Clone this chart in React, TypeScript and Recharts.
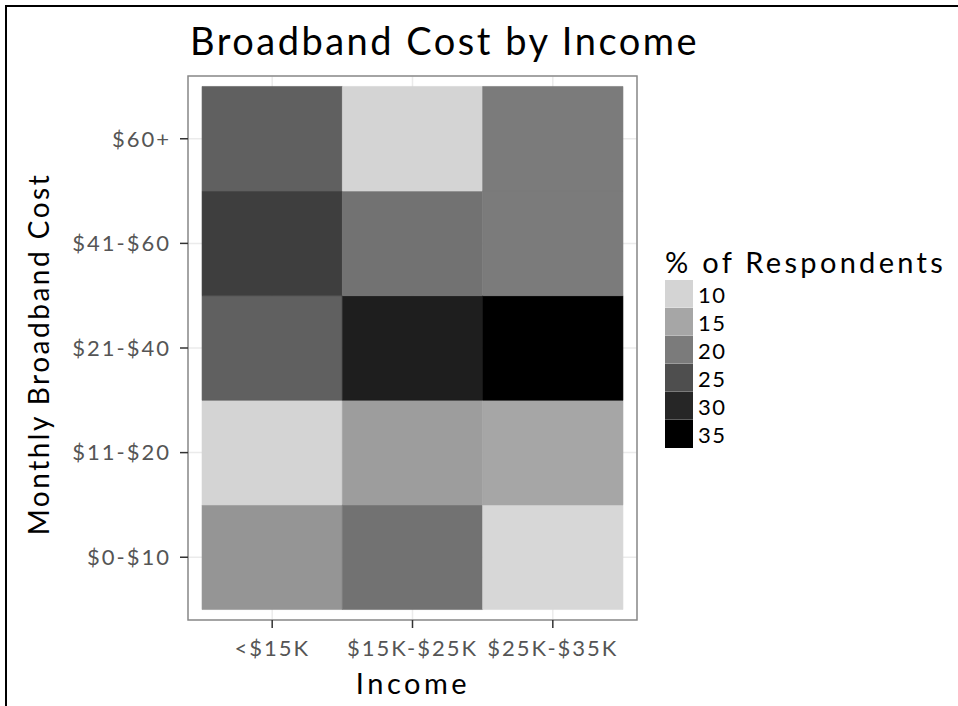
import { ScatterChart, Scatter, XAxis, YAxis, CartesianGrid, ReferenceArea } from "recharts";

const incomes = ["<$15K", "$15K-$25K", "$25K-$35K"];
const costs = ["$0-$10", "$11-$20", "$21-$40", "$41-$60", "$60+"];

// % of respondents per cost bracket (bottom to top), one list per income group
const under15K = [17, 10, 23, 27, 23];
const from15To25K = [21, 16, 31, 21, 10];
const from25To35K = [9.5, 15, 35, 20, 20];

const legendBreaks = [10, 15, 20, 25, 30, 35];
const legendGrays = [212, 166, 123, 78, 38, 0];

const byIncome = [under15K, from15To25K, from25To35K];
const cells = byIncome.flatMap((col, i) =>
  col.map((value, j) => ({ x: i + 1, y: j + 1, value }))
);

function grayFor(v: number) {
  let g: number;
  if (v <= legendBreaks[0]) {
    g = Math.min(255, legendGrays[0] + (legendBreaks[0] - v) * 6);
  } else if (v >= legendBreaks[legendBreaks.length - 1]) {
    g = 0;
  } else {
    const k = legendBreaks.findIndex((b) => b > v) - 1;
    const t = (v - legendBreaks[k]) / (legendBreaks[k + 1] - legendBreaks[k]);
    g = legendGrays[k] + (legendGrays[k + 1] - legendGrays[k]) * t;
  }
  const h = Math.round(g).toString(16).padStart(2, "0");
  return `#${h}${h}${h}`;
}

const FONT = "Lato, 'Open Sans', sans-serif";
const tickStyle = { fill: "#555", fontSize: 22, fontFamily: FONT, letterSpacing: 2 };

export default function App() {
  return (
    <div
      style={{
        position: "absolute",
        left: 0,
        top: 0,
        width: 958,
        height: 706,
        background: "#fff",
        fontFamily: FONT,
        overflow: "hidden",
      }}
    >
      {/* frame lines */}
      <div
        style={{
          position: "absolute",
          left: 5,
          top: 5,
          width: 960,
          height: 710,
          borderTop: "2px solid #000",
          borderLeft: "2px solid #000",
        }}
      />

      <ScatterChart
        width={958}
        height={706}
        margin={{ top: 76, right: 321, bottom: 0, left: 0 }}
        style={{ position: "absolute", left: 0, top: 0 }}
      >
        <CartesianGrid stroke="#ebebeb" strokeWidth={1.5} />
        <XAxis
          type="number"
          dataKey="x"
          domain={[0.4, 3.6]}
          ticks={[1, 2, 3]}
          interval={0}
          allowDataOverflow
          tickFormatter={(v) => incomes[v - 1]}
          axisLine={false}
          tickSize={8}
          tickMargin={12}
          tickLine={{ stroke: "#333", strokeWidth: 1.5 }}
          tick={tickStyle}
          height={86}
        />
        <YAxis
          type="number"
          dataKey="y"
          domain={[0.4, 5.6]}
          ticks={[1, 2, 3, 4, 5]}
          interval={0}
          allowDataOverflow
          tickFormatter={(v) => costs[v - 1]}
          axisLine={false}
          tickSize={8}
          tickMargin={9}
          tickLine={{ stroke: "#333", strokeWidth: 1.5 }}
          tick={tickStyle}
          width={188}
        />
        {cells.map((c) => (
          <ReferenceArea
            key={`${c.x}-${c.y}`}
            x1={c.x - 0.5}
            x2={c.x + 0.5}
            y1={c.y - 0.5}
            y2={c.y + 0.5}
            fill={grayFor(c.value)}
            fillOpacity={1}
            stroke={grayFor(c.value)}
            strokeWidth={0.6}
          />
        ))}
        <ReferenceArea
          x1={0.4}
          x2={3.6}
          y1={0.4}
          y2={5.6}
          fill="none"
          stroke="#8a8a8a"
          strokeWidth={1.5}
          ifOverflow="visible"
        />
        <Scatter data={cells} isAnimationActive={false} shape={() => <g />} />
      </ScatterChart>

      {/* title */}
      <div
        style={{
          position: "absolute",
          left: 190,
          top: 17,
          fontSize: 38,
          letterSpacing: 2.5,
          color: "#000",
          whiteSpace: "nowrap",
        }}
      >
        Broadband Cost by Income
      </div>

      {/* axis titles */}
      <div
        style={{
          position: "absolute",
          left: 413,
          top: 665,
          transform: "translateX(-50%)",
          fontSize: 29,
          letterSpacing: 3.5,
          whiteSpace: "nowrap",
        }}
      >
        Income
      </div>
      <div
        style={{
          position: "absolute",
          left: 38,
          top: 354,
          transform: "translate(-50%, -50%) rotate(-90deg)",
          fontSize: 28,
          letterSpacing: 2.5,
          whiteSpace: "nowrap",
        }}
      >
        Monthly Broadband Cost
      </div>

      {/* legend */}
      <div style={{ position: "absolute", left: 665, top: 244 }}>
        <div style={{ fontSize: 29, letterSpacing: 3.3, whiteSpace: "nowrap", lineHeight: "36px" }}>
          % of Respondents
        </div>
        {legendBreaks.map((b, i) => (
          <div
            key={b}
            style={{ display: "flex", alignItems: "center", height: 28 }}
          >
            <div
              style={{
                width: 28,
                height: 28,
                background: grayFor(b),
                boxSizing: "border-box",
                borderBottom: i < legendBreaks.length - 1 ? "1px solid rgba(255,255,255,0.25)" : "none",
              }}
            />
            <div style={{ fontSize: 22, letterSpacing: 1.5, marginLeft: 5, color: "#000" }}>{b}</div>
          </div>
        ))}
      </div>
    </div>
  );
}
